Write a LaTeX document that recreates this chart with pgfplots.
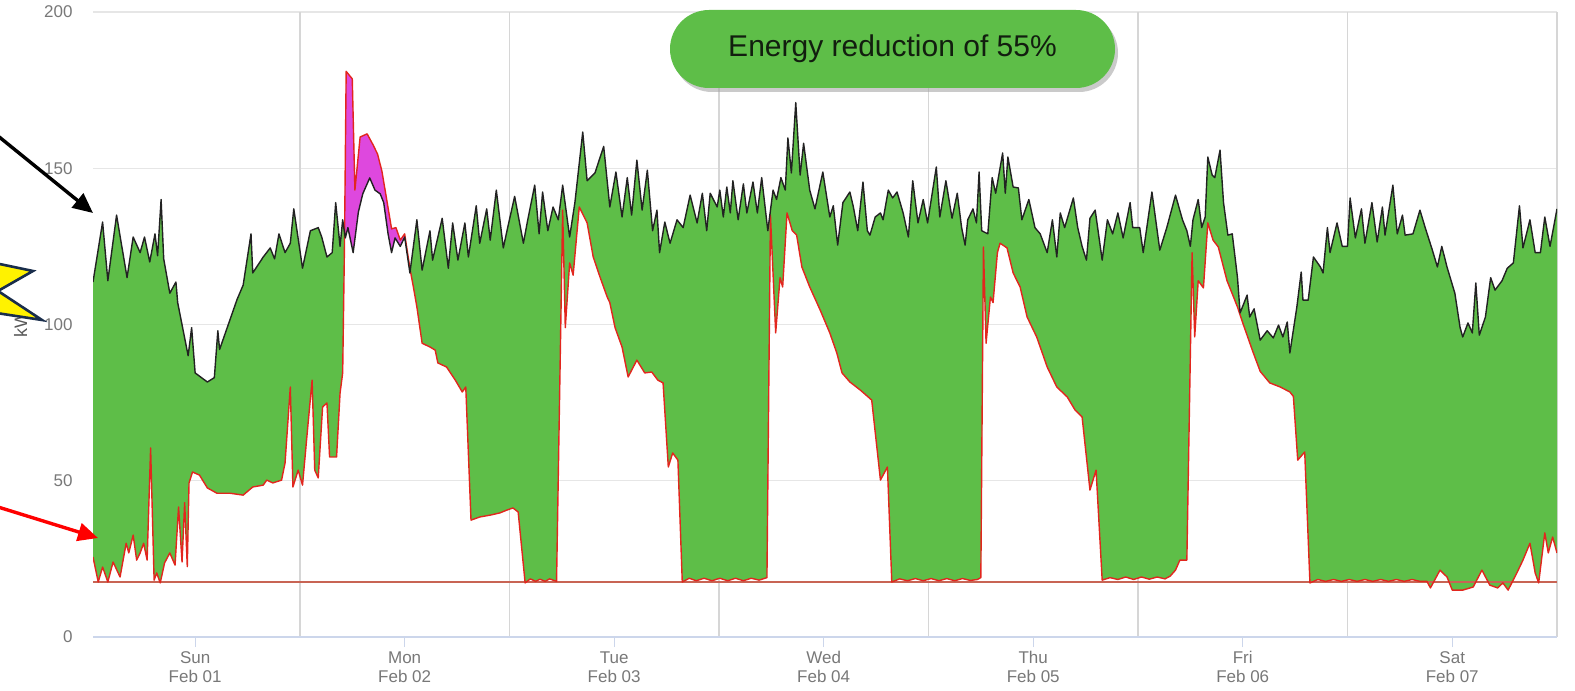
\documentclass[border=0pt]{standalone}
\usepackage{fontspec}
\setmainfont{Liberation Sans}
\usepackage{pgfplots}
\pgfplotsset{compat=1.18}
\usepackage{pgfplotstable}
\usepgfplotslibrary{fillbetween}
\usetikzlibrary{arrows.meta,shadows}

\definecolor{savegreen}{RGB}{94,190,72}
\definecolor{overpink}{RGB}{222,72,222}
\definecolor{floorred}{RGB}{200,100,84}
\definecolor{optred}{RGB}{226,38,30}
\definecolor{basegray}{RGB}{34,34,34}
\definecolor{gridgray}{RGB}{230,230,230}
\definecolor{labelgray}{RGB}{120,120,120}
\definecolor{axisblue}{RGB}{204,214,235}
\definecolor{starnavy}{RGB}{25,45,75}

% baseline load (black), hours from Sun 00:00, kW
\pgfplotstableread{
h kw
0.3 113.6
1.4 132.8
2.0 114
3.0 135
4.2 115
4.9 128
5.7 123
6.2 128
6.8 120
7.4 129
7.7 122
8.1 140
8.4 121
9.1 110
9.8 113.6
10.0 107
11.2 90
11.6 99
12.0 84.5
13.4 81.6
14.2 83
14.6 98
14.8 92
16.3 104
16.8 108
17.5 112.6
18.4 129
18.6 116.5
19.8 121.6
20.6 124.5
21.1 121
21.6 129
22.3 123
22.9 126
23.3 137
24.3 118
25.2 130
26.1 131
26.5 128
27.1 121.6
27.7 123
28.1 139
28.6 125
28.9 133.5
29.2 127.7
29.5 131
30.1 123
30.7 136
31.2 141.8
32.0 146.9
32.6 143
33.2 141.8
33.6 139
34.1 129
34.5 123
34.9 127.7
35.5 125
36.0 128
36.6 116.5
37.4 133.5
38.0 117.4
38.9 130
39.2 120.6
40.3 134
41.0 118
41.5 132.5
42.1 120.6
42.9 132.5
43.3 121.6
44.2 138
44.6 126
45.4 137
45.8 127
46.5 143
47.3 124.5
47.8 131
48.6 141
49.6 126
50.1 133.5
50.9 144.6
51.4 129
51.8 142.4
52.4 130
53.0 137.6
53.6 133.5
54.1 144.6
54.9 128
55.5 139
56.4 161.6
56.9 146
57.8 148.5
58.8 157
59.5 137.6
60.2 148.8
60.9 134.4
61.5 147
62.0 135
62.6 152.6
63.2 136.6
63.8 149.4
64.4 130
64.9 136.6
65.2 123
65.8 132.8
66.4 126
67.2 133.5
67.9 131
68.7 141.4
69.5 132.5
70.1 142
70.6 130
71.0 142
71.8 137.6
72.1 143
72.5 134.4
72.9 144
73.3 135.7
73.6 146
74.2 133.5
74.8 145
75.2 135.7
75.9 145.6
76.4 135.7
76.9 147
77.6 130
78.2 143
78.6 140
79.1 147
79.6 143
79.9 159.7
80.3 148.5
80.8 171
81.3 147.8
81.7 158
82.4 143
83.0 137
83.9 148.8
84.7 134.4
85.1 138
85.6 125.4
86.2 139
87.0 142.4
87.4 137.6
87.9 130
88.5 145.6
89.0 130
89.3 128.6
89.9 134.4
90.5 135.7
90.8 133.5
91.4 143
91.9 140.5
92.4 142.4
93.1 135.7
93.7 128
94.2 146
94.8 132.5
95.4 140
95.9 132.5
96.9 150.4
97.3 134.4
98.0 146
98.7 134
99.3 142
99.8 131
100.2 125.4
100.5 133.5
101.1 137
101.5 132.5
101.8 148.8
102.1 130
102.8 129
103.3 147
103.7 142
104.5 154.9
104.8 142
105.1 153.6
105.7 144
106.3 143.7
106.7 133.5
107.5 140
108.2 131
108.8 129
109.6 123
110.2 133.5
110.7 121.6
111.1 135.7
111.6 131
112.6 140.5
113.1 131
113.6 125
114.1 120.6
114.5 134
115.1 136.6
115.9 120.6
116.5 133.5
117.1 129
117.7 135.7
118.3 127.7
119.1 139
119.4 131
120.2 131
120.6 123
121.6 142.4
122.5 123.8
123.3 131
124.3 141.4
125.1 133.5
125.6 130
126.0 125
126.3 133.5
126.9 140
127.3 131
127.7 134.4
128.0 153.6
128.5 147.8
128.8 147
129.4 155.8
129.8 139
130.3 128.6
130.8 129
131.4 115
131.7 103.7
132.5 109.4
132.8 102.4
133.3 105
134.0 95
134.8 98
135.5 95.7
136.1 99.8
136.6 96
137.1 100.8
137.4 90.9
138.2 105.6
138.7 116.8
138.9 107.8
139.5 107.8
140.1 121.6
140.9 118.4
141.2 116.5
141.7 131
142.0 123
142.8 132.5
143.4 125
144.0 125
144.3 140.5
144.9 127.7
145.6 137
146.0 126
146.8 139
147.4 126.4
148.0 137.6
148.3 128.6
149.2 144.6
149.7 129
150.3 135
150.6 128.6
151.5 129
152.3 136.6
152.9 131
153.7 124
154.3 118.4
154.8 125
155.4 118.4
156.3 110
156.9 99
157.2 96
157.8 100.5
158.3 97.3
158.7 113.3
159.1 96.6
159.8 102.4
160.4 115
160.9 111
161.7 114
162.3 118
163.0 119.7
163.7 138
164.1 124.5
164.9 133.5
165.5 123
166.1 123
166.6 134.4
167.2 125
168.0 137
}\basetab

% optimised load (red)
\pgfplotstableread{
h kw
0.3 25.6
0.9 17.6
1.4 22.4
2.0 17.6
2.6 24
3.4 19.2
4.1 30
4.4 26.9
4.9 32.6
5.3 24.6
5.7 26.9
6.1 30
6.5 24.6
6.9 60.5
7.3 18.2
7.6 20.5
8.0 17.3
8.5 23.7
9.1 26.9
9.7 23
10.1 41.6
10.5 24
10.8 43
11.1 22.5
11.3 49.3
11.7 52.8
12.5 51.8
13.4 47.7
14.5 46
16.0 46
17.5 45.4
18.6 48
19.8 48.6
20.2 50.2
20.9 49.3
21.9 50.2
22.3 55.7
22.9 80
23.2 48
23.8 53.4
24.3 48.6
24.9 67.2
25.4 82.2
25.7 53.4
26.1 50.9
26.6 73.6
27.1 74.9
27.4 57.6
28.2 57.6
28.6 78
28.9 84.5
29.1 124
29.3 181
30.0 178.6
30.3 143
30.9 160
31.7 161
32.4 157.4
32.9 154.5
33.4 149
34.0 139
34.5 130.6
35.0 131
35.5 127
36.0 129
36.6 118
37.0 112
37.4 105.6
38.0 94
38.9 92.8
39.5 91.8
39.8 87.7
40.8 86.4
41.8 82.2
42.6 78.4
43.0 80
43.6 37.4
44.6 38.4
45.8 39
46.9 39.7
47.7 40.6
48.4 41.3
49.0 40
49.8 17.3
50.4 18.6
51.0 17.8
51.5 18.5
52.1 17.8
52.6 18.6
53.4 17.8
54.1 136.6
54.4 99
54.9 119.7
55.3 115.8
56.0 137.6
56.9 132.5
57.6 121.6
58.4 115
59.2 108.8
59.5 107
60.1 99
60.9 92.8
61.6 83.2
62.6 88.6
63.5 84.5
64.3 84.8
65.0 82.2
65.6 81.3
66.2 54.4
66.7 58.9
67.3 56.6
67.8 17.6
68.6 18.8
69.4 18.0
70.3 18.8
71.2 18.0
72.1 18.8
73.0 18.0
73.9 18.8
74.8 18.0
75.7 18.8
76.6 18.2
77.5 19
77.9 135
78.5 97.3
79.0 115
79.3 112
79.8 135.7
80.4 130
80.9 128.6
81.5 118.4
82.4 112
83.6 104.6
84.7 97.3
85.5 90.9
86.1 84.5
87.0 81.6
88.2 79
89.1 76.8
89.5 75.8
90.5 50.2
91.3 54.4
91.8 17.6
92.7 18.6
93.6 18.0
94.5 18.7
95.4 18.0
96.3 18.7
97.2 18.0
98.1 18.7
99.0 18.0
99.9 18.7
100.8 18.1
101.6 18.4
102.0 19
102.3 124.8
102.6 94
103.1 108.8
103.4 107
103.9 123
104.2 126
105.0 124.5
105.7 116.5
106.5 112
107.3 102.4
108.4 96
109.6 86.4
110.7 80
111.9 76.8
112.8 72.6
113.6 70.4
114.5 47
115.2 53.4
115.9 18.2
116.8 19
117.7 18.4
118.6 19.2
119.5 18.4
120.4 19.2
121.3 18.5
122.2 19.2
123.1 18.6
123.7 19.5
124.3 21.4
124.8 24.6
125.6 24.6
126.2 123
126.5 96
126.9 114
127.5 111.7
128.0 132.5
128.6 127
129.2 124.8
130.2 114
131.4 105.6
132.0 100.5
133.2 91
134.0 85
135.1 81.3
136.3 80
137.4 78.4
137.8 77
138.3 56.6
139.1 59.2
139.7 17.3
140.6 18.4
141.5 17.8
142.4 18.4
143.3 17.8
144.2 18.4
145.1 17.8
146.0 18.4
146.9 17.8
147.8 18.4
148.7 17.8
149.6 18.4
150.5 17.8
151.4 18.4
152.3 17.8
153.1 17.8
153.5 15.7
154.6 21.4
155.4 19.2
156.0 15
157.2 15
158.4 16
159.4 21.4
160.3 16.6
161.2 15.7
161.8 17.3
162.4 15
163.4 20.5
164.1 24.6
164.9 30
165.3 23.7
165.5 20.5
165.9 17.3
166.6 33.3
167.0 26.9
167.5 32
168.0 26.9
}\opttab

\begin{document}
\begin{tikzpicture}
\begin{axis}[
    set layers,
    at={(46.5pt,27pt)}, anchor=south west,
    scale only axis, width=732pt, height=312.5pt,
    xmin=0.3, xmax=168, ymin=0, ymax=200,
    axis x line*=bottom, axis y line*=left,
    x axis line style={draw=axisblue, line width=0.8pt},
    y axis line style={draw=none},
    tick align=outside, major tick length=5pt,
    xtick={12,36,60,84,108,132,156},
    xticklabels={{Sun\\Feb 01},{Mon\\Feb 02},{Tue\\Feb 03},{Wed\\Feb 04},{Thu\\Feb 05},{Fri\\Feb 06},{Sat\\Feb 07}},
    x tick style={draw=axisblue, line width=0.6pt},
    x tick label style={align=center, font=\fontsize{8.5}{9.5}\selectfont, text=labelgray, inner sep=0pt, yshift=-2pt},
    extra x ticks={24,48,72,96,120,144,168},
    extra x tick labels={},
    extra x tick style={xmajorgrids=true, major x grid style={draw=black!16, line width=0.6pt}, major tick length=0pt},
    ytick={0,50,100,150,200},
    ymajorgrids, major y grid style={draw=gridgray, line width=0.6pt},
    y tick style={draw=none},
    yticklabel style={font=\fontsize{8.5}{10}\selectfont, text=labelgray, inner sep=0pt, xshift=-5pt},
    /pgf/number format/assume math mode=true,
  ]
  \addplot[draw=none, name path=base, forget plot] table[x=h, y=kw] {\basetab};
  \addplot[draw=none, name path=opt, forget plot] table[x=h, y=kw] {\opttab};
  \addplot[savegreen, on layer=axis background] fill between[of=base and opt, soft clip={domain=0.3:29.12}];
  \addplot[savegreen, on layer=axis background] fill between[of=base and opt, soft clip={domain=36.4:168}];
  \addplot[overpink, on layer=axis background] fill between[of=base and opt, soft clip={domain=29.12:36.4}];
  \addplot[floorred, line width=1.4pt] coordinates {(0.3,17.6) (168,17.6)};
  \addplot[optred, line width=0.7pt, line join=round] table[x=h, y=kw] {\opttab};
  \addplot[basegray, line width=0.7pt, line join=round] table[x=h, y=kw] {\basetab};
\end{axis}

% title badge
\node[fill=savegreen, rounded corners=19.5pt, minimum width=222.5pt, minimum height=39pt,
      drop shadow={shadow xshift=1.5pt, shadow yshift=-2pt, fill=black!35, opacity=0.6},
      text={rgb,255:red,18;green,30;blue,15}, font=\fontsize{15}{18}\selectfont]
  at (446.25pt,321pt) {Energy reduction of 55\%};

% y label and callouts at the left edge
\node[rotate=90, font=\fontsize{9}{10}\selectfont, text=black!65] at (10.25pt,183pt) {kW};
\draw[starnavy, line width=1.3pt, fill=yellow, line join=miter]
  (-5pt,214.5pt) -- (16.5pt,210pt) -- (-1pt,200pt) -- (21pt,185.5pt) -- (-5pt,189.5pt) -- cycle;
\draw[black, line width=1.7pt, -{Triangle[length=10pt,width=9pt]}] (-1pt,277.5pt) -- (46.5pt,239pt);
\draw[red, line width=1.7pt, -{Triangle[length=10pt,width=9pt]}] (-1pt,92pt) -- (49pt,76.5pt);

\pgfresetboundingbox
\path[use as bounding box] (0,0) rectangle (787.5pt,345.5pt);
\end{tikzpicture}
\end{document}
